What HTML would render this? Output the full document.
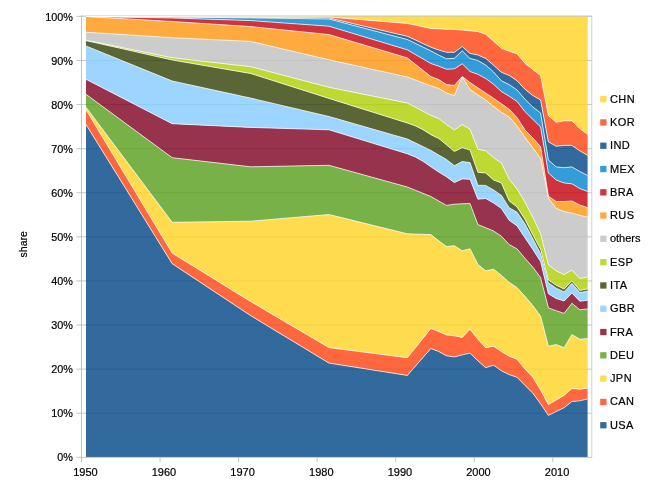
<!DOCTYPE html>
<html><head><meta charset="utf-8"><title>share</title>
<style>html,body{margin:0;padding:0;background:#fff}svg{display:block}text{font-family:"Liberation Sans",Arial,sans-serif;font-size:11px;fill:#000;stroke:#000;stroke-width:0.2px}</style></head><body>
<svg width="650" height="487" viewBox="0 0 650 487">
<rect width="650" height="487" fill="#fff"/>
<g stroke="#b3b3b3" stroke-width="0.75" fill="none"><line x1="81.5" y1="413.21" x2="591.8" y2="413.21"/><line x1="81.5" y1="369.12" x2="591.8" y2="369.12"/><line x1="81.5" y1="325.03" x2="591.8" y2="325.03"/><line x1="81.5" y1="280.94" x2="591.8" y2="280.94"/><line x1="81.5" y1="236.85" x2="591.8" y2="236.85"/><line x1="81.5" y1="192.76" x2="591.8" y2="192.76"/><line x1="81.5" y1="148.67" x2="591.8" y2="148.67"/><line x1="81.5" y1="104.58" x2="591.8" y2="104.58"/><line x1="81.5" y1="60.49" x2="591.8" y2="60.49"/><line x1="81.5" y1="16.40" x2="591.8" y2="16.40"/></g><path d="M81.5 16.0H591.8V457.4" stroke="#c9ccd2" stroke-width="0.9" fill="none"/>
<g fill-opacity="0.8" stroke="none"><polygon fill="#004586" points="86.0,457.0 172.2,457.0 250.6,457.0 329.0,457.0 407.3,457.0 415.2,457.0 423.0,457.0 430.9,457.0 438.7,457.0 446.5,457.0 454.4,457.0 462.2,457.0 470.0,457.0 477.9,457.0 485.7,457.0 493.6,457.0 501.4,457.0 509.2,457.0 517.1,457.0 524.9,457.0 532.7,457.0 540.6,457.0 548.4,457.0 556.2,457.0 564.1,457.0 571.9,457.0 579.8,457.0 587.6,457.0 587.6,398.9 579.8,400.8 571.9,401.5 564.1,407.7 556.2,411.5 548.4,415.4 540.6,403.8 532.7,393.0 524.9,385.3 517.1,377.3 509.2,374.6 501.4,370.8 493.6,365.1 485.7,367.7 477.9,360.8 470.0,353.1 462.2,354.9 454.4,356.9 446.5,355.8 438.7,351.5 430.9,348.5 423.0,357.5 415.2,366.4 407.3,375.4 329.0,363.1 250.6,315.6 172.2,263.7 86.0,124.5"/>
<polygon fill="#ff420e" points="86.0,124.5 172.2,263.7 250.6,315.6 329.0,363.1 407.3,375.4 415.2,366.4 423.0,357.5 430.9,348.5 438.7,351.5 446.5,355.8 454.4,356.9 462.2,354.9 470.0,353.1 477.9,360.8 485.7,367.7 493.6,365.1 501.4,370.8 509.2,374.6 517.1,377.3 524.9,385.3 532.7,393.0 540.6,403.8 548.4,415.4 556.2,411.5 564.1,407.7 571.9,401.5 579.8,400.8 587.6,398.9 587.6,388.2 579.8,389.2 571.9,388.5 564.1,395.4 556.2,400.0 548.4,404.6 540.6,390.0 532.7,377.0 524.9,369.0 517.1,359.2 509.2,356.2 501.4,351.5 493.6,346.2 485.7,347.7 477.9,339.2 470.0,329.2 462.2,337.4 454.4,335.8 446.5,334.9 438.7,331.5 430.9,328.5 423.0,338.2 415.2,348.0 407.3,357.7 329.0,347.6 250.6,301.5 172.2,253.1 86.0,109.7"/>
<polygon fill="#ffd320" points="86.0,109.7 172.2,253.1 250.6,301.5 329.0,347.6 407.3,357.7 415.2,348.0 423.0,338.2 430.9,328.5 438.7,331.5 446.5,334.9 454.4,335.8 462.2,337.4 470.0,329.2 477.9,339.2 485.7,347.7 493.6,346.2 501.4,351.5 509.2,356.2 517.1,359.2 524.9,369.0 532.7,377.0 540.6,390.0 548.4,404.6 556.2,400.0 564.1,395.4 571.9,388.5 579.8,389.2 587.6,388.2 587.6,338.5 579.8,339.2 571.9,334.6 564.1,347.7 556.2,344.6 548.4,346.2 540.6,316.2 532.7,305.4 524.9,296.2 517.1,287.7 509.2,282.3 501.4,275.4 493.6,269.2 485.7,270.8 477.9,264.4 470.0,248.8 462.2,250.8 454.4,245.7 446.5,246.6 438.7,240.8 430.9,234.6 423.0,234.3 415.2,234.1 407.3,233.8 329.0,214.5 250.6,221.2 172.2,222.3 86.0,107.2"/>
<polygon fill="#579d1c" points="86.0,107.2 172.2,222.3 250.6,221.2 329.0,214.5 407.3,233.8 415.2,234.1 423.0,234.3 430.9,234.6 438.7,240.8 446.5,246.6 454.4,245.7 462.2,250.8 470.0,248.8 477.9,264.4 485.7,270.8 493.6,269.2 501.4,275.4 509.2,282.3 517.1,287.7 524.9,296.2 532.7,305.4 540.6,316.2 548.4,346.2 556.2,344.6 564.1,347.7 571.9,334.6 579.8,339.2 587.6,338.5 587.6,308.9 579.8,309.8 571.9,303.3 564.1,313.4 556.2,310.7 548.4,307.9 540.6,277.6 532.7,267.0 524.9,258.2 517.1,248.9 509.2,244.6 501.4,236.2 493.6,231.0 485.7,227.7 477.9,224.6 470.0,203.5 462.2,203.8 454.4,204.2 446.5,205.4 438.7,201.0 430.9,196.5 423.0,193.3 415.2,190.2 407.3,187.0 329.0,165.3 250.6,166.8 172.2,157.7 86.0,94.3"/>
<polygon fill="#7e0021" points="86.0,94.3 172.2,157.7 250.6,166.8 329.0,165.3 407.3,187.0 415.2,190.2 423.0,193.3 430.9,196.5 438.7,201.0 446.5,205.4 454.4,204.2 462.2,203.8 470.0,203.5 477.9,224.6 485.7,227.7 493.6,231.0 501.4,236.2 509.2,244.6 517.1,248.9 524.9,258.2 532.7,267.0 540.6,277.6 548.4,307.9 556.2,310.7 564.1,313.4 571.9,303.3 579.8,309.8 587.6,308.9 587.6,300.3 579.8,301.2 571.9,293.0 564.1,301.0 556.2,298.5 548.4,293.8 540.6,261.6 532.7,249.2 524.9,237.7 517.1,225.9 509.2,220.3 501.4,208.5 493.6,203.0 485.7,198.5 477.9,199.2 470.0,179.2 462.2,178.9 454.4,182.6 446.5,176.8 438.7,172.0 430.9,166.8 423.0,161.3 415.2,156.9 407.3,153.8 329.0,129.8 250.6,127.4 172.2,123.7 86.0,79.3"/>
<polygon fill="#83caff" points="86.0,79.3 172.2,123.7 250.6,127.4 329.0,129.8 407.3,153.8 415.2,156.9 423.0,161.3 430.9,166.8 438.7,172.0 446.5,176.8 454.4,182.6 462.2,178.9 470.0,179.2 477.9,199.2 485.7,198.5 493.6,203.0 501.4,208.5 509.2,220.3 517.1,225.9 524.9,237.7 532.7,249.2 540.6,261.6 548.4,293.8 556.2,298.5 564.1,301.0 571.9,293.0 579.8,301.2 587.6,300.3 587.6,291.2 579.8,292.6 571.9,283.3 564.1,291.9 556.2,288.2 548.4,282.8 540.6,253.8 532.7,238.5 524.9,223.8 517.1,212.3 509.2,207.8 501.4,195.4 493.6,190.0 485.7,185.4 477.9,185.3 470.0,162.6 462.2,161.5 454.4,165.7 446.5,159.5 438.7,155.0 430.9,150.4 423.0,146.6 415.2,142.8 407.3,139.0 329.0,116.5 250.6,98.1 172.2,81.0 86.0,46.0"/>
<polygon fill="#314004" points="86.0,46.0 172.2,81.0 250.6,98.1 329.0,116.5 407.3,139.0 415.2,142.8 423.0,146.6 430.9,150.4 438.7,155.0 446.5,159.5 454.4,165.7 462.2,161.5 470.0,162.6 477.9,185.3 485.7,185.4 493.6,190.0 501.4,195.4 509.2,207.8 517.1,212.3 524.9,223.8 532.7,238.5 540.6,253.8 548.4,282.8 556.2,288.2 564.1,291.9 571.9,283.3 579.8,292.6 587.6,291.2 587.6,288.9 579.8,290.4 571.9,280.8 564.1,289.0 556.2,285.2 548.4,279.9 540.6,249.2 532.7,234.6 524.9,219.2 517.1,207.0 509.2,200.9 501.4,183.0 493.6,180.0 485.7,173.0 477.9,172.3 470.0,150.0 462.2,147.7 454.4,151.5 446.5,144.8 438.7,138.4 430.9,134.7 423.0,129.7 415.2,125.8 407.3,123.0 329.0,98.4 250.6,73.5 172.2,60.0 86.0,40.6"/>
<polygon fill="#aecf00" points="86.0,40.6 172.2,60.0 250.6,73.5 329.0,98.4 407.3,123.0 415.2,125.8 423.0,129.7 430.9,134.7 438.7,138.4 446.5,144.8 454.4,151.5 462.2,147.7 470.0,150.0 477.9,172.3 485.7,173.0 493.6,180.0 501.4,183.0 509.2,200.9 517.1,207.0 524.9,219.2 532.7,234.6 540.6,249.2 548.4,279.9 556.2,285.2 564.1,289.0 571.9,280.8 579.8,290.4 587.6,288.9 587.6,277.0 579.8,278.5 571.9,270.0 564.1,274.6 556.2,270.8 548.4,264.9 540.6,233.6 532.7,217.0 524.9,202.0 517.1,189.0 509.2,179.2 501.4,163.0 493.6,157.7 485.7,150.8 477.9,149.2 470.0,129.2 462.2,124.6 454.4,130.0 446.5,124.6 438.7,118.5 430.9,115.4 423.0,111.3 415.2,107.1 407.3,103.0 329.0,87.3 250.6,66.7 172.2,57.7 86.0,40.2"/>
<polygon fill="#bfbfbf" points="86.0,40.2 172.2,57.7 250.6,66.7 329.0,87.3 407.3,103.0 415.2,107.1 423.0,111.3 430.9,115.4 438.7,118.5 446.5,124.6 454.4,130.0 462.2,124.6 470.0,129.2 477.9,149.2 485.7,150.8 493.6,157.7 501.4,163.0 509.2,179.2 517.1,189.0 524.9,202.0 532.7,217.0 540.6,233.6 548.4,264.9 556.2,270.8 564.1,274.6 571.9,270.0 579.8,278.5 587.6,277.0 587.6,217.0 579.8,215.4 571.9,213.0 564.1,211.5 556.2,208.5 548.4,198.2 540.6,158.5 532.7,147.7 524.9,137.3 517.1,126.2 509.2,117.0 501.4,112.2 493.6,106.5 485.7,100.0 477.9,95.0 470.0,89.6 462.2,77.0 454.4,95.6 446.5,93.0 438.7,88.4 430.9,85.9 423.0,82.9 415.2,80.0 407.3,77.0 329.0,59.8 250.6,41.4 172.2,37.7 86.0,32.2"/>
<polygon fill="#ff950e" points="86.0,32.2 172.2,37.7 250.6,41.4 329.0,59.8 407.3,77.0 415.2,80.0 423.0,82.9 430.9,85.9 438.7,88.4 446.5,93.0 454.4,95.6 462.2,77.0 470.0,89.6 477.9,95.0 485.7,100.0 493.6,106.5 501.4,112.2 509.2,117.0 517.1,126.2 524.9,137.3 532.7,147.7 540.6,158.5 548.4,198.2 556.2,208.5 564.1,211.5 571.9,213.0 579.8,215.4 587.6,217.0 587.6,207.7 579.8,205.0 571.9,201.0 564.1,201.5 556.2,201.5 548.4,196.2 540.6,146.8 532.7,137.7 524.9,129.8 517.1,117.7 509.2,109.2 501.4,103.7 493.6,98.3 485.7,93.0 477.9,87.9 470.0,82.5 462.2,76.5 454.4,85.4 446.5,84.6 438.7,79.5 430.9,76.6 423.0,70.4 415.2,64.1 407.3,57.9 329.0,34.6 250.6,26.6 172.2,21.5 86.0,16.5"/>
<polygon fill="#c5000b" points="86.0,16.5 172.2,21.5 250.6,26.6 329.0,34.6 407.3,57.9 415.2,64.1 423.0,70.4 430.9,76.6 438.7,79.5 446.5,84.6 454.4,85.4 462.2,76.5 470.0,82.5 477.9,87.9 485.7,93.0 493.6,98.3 501.4,103.7 509.2,109.2 517.1,117.7 524.9,129.8 532.7,137.7 540.6,146.8 548.4,196.2 556.2,201.5 564.1,201.5 571.9,201.0 579.8,205.0 587.6,207.7 587.6,191.5 579.8,188.5 571.9,183.8 564.1,183.0 556.2,180.0 548.4,173.0 540.6,126.9 532.7,119.2 524.9,111.5 517.1,101.5 509.2,96.2 501.4,91.5 493.6,84.3 485.7,78.5 477.9,74.3 470.0,71.5 462.2,63.8 454.4,68.9 446.5,69.2 438.7,66.2 430.9,63.5 423.0,58.9 415.2,54.4 407.3,49.8 329.0,26.2 250.6,20.6 172.2,18.0 86.0,16.5"/>
<polygon fill="#0084d1" points="86.0,16.5 172.2,18.0 250.6,20.6 329.0,26.2 407.3,49.8 415.2,54.4 423.0,58.9 430.9,63.5 438.7,66.2 446.5,69.2 454.4,68.9 462.2,63.8 470.0,71.5 477.9,74.3 485.7,78.5 493.6,84.3 501.4,91.5 509.2,96.2 517.1,101.5 524.9,111.5 532.7,119.2 540.6,126.9 548.4,173.0 556.2,180.0 564.1,183.0 571.9,183.8 579.8,188.5 587.6,191.5 587.6,175.4 579.8,171.5 571.9,166.9 564.1,167.7 556.2,166.9 548.4,160.0 540.6,113.0 532.7,106.9 524.9,99.2 517.1,90.0 509.2,84.6 501.4,80.8 493.6,72.0 485.7,65.1 477.9,60.5 470.0,58.5 462.2,50.8 454.4,58.3 446.5,58.8 438.7,55.1 430.9,50.9 423.0,47.1 415.2,43.3 407.3,39.5 329.0,19.0 250.6,17.9 172.2,17.0 86.0,16.5"/>
<polygon fill="#004586" points="86.0,16.5 172.2,17.0 250.6,17.9 329.0,19.0 407.3,39.5 415.2,43.3 423.0,47.1 430.9,50.9 438.7,55.1 446.5,58.8 454.4,58.3 462.2,50.8 470.0,58.5 477.9,60.5 485.7,65.1 493.6,72.0 501.4,80.8 509.2,84.6 517.1,90.0 524.9,99.2 532.7,106.9 540.6,113.0 548.4,160.0 556.2,166.9 564.1,167.7 571.9,166.9 579.8,171.5 587.6,175.4 587.6,155.4 579.8,150.8 571.9,145.4 564.1,145.4 556.2,146.2 548.4,141.8 540.6,100.0 532.7,95.4 524.9,89.2 517.1,80.8 509.2,75.4 501.4,72.3 493.6,65.2 485.7,58.4 477.9,55.0 470.0,53.4 462.2,46.5 454.4,52.3 446.5,52.3 438.7,50.0 430.9,47.2 423.0,43.6 415.2,39.9 407.3,36.3 329.0,18.0 250.6,17.3 172.2,16.8 86.0,16.5"/>
<polygon fill="#ff420e" points="86.0,16.5 172.2,16.8 250.6,17.3 329.0,18.0 407.3,36.3 415.2,39.9 423.0,43.6 430.9,47.2 438.7,50.0 446.5,52.3 454.4,52.3 462.2,46.5 470.0,53.4 477.9,55.0 485.7,58.4 493.6,65.2 501.4,72.3 509.2,75.4 517.1,80.8 524.9,89.2 532.7,95.4 540.6,100.0 548.4,141.8 556.2,146.2 564.1,145.4 571.9,145.4 579.8,150.8 587.6,155.4 587.6,134.3 579.8,128.5 571.9,120.8 564.1,120.8 556.2,122.3 548.4,115.6 540.6,75.4 532.7,69.5 524.9,63.2 517.1,53.8 509.2,51.2 501.4,48.3 493.6,41.2 485.7,34.2 477.9,31.5 470.0,30.8 462.2,30.0 454.4,29.5 446.5,29.2 438.7,28.8 430.9,28.5 423.0,26.8 415.2,25.1 407.3,23.4 329.0,17.0 250.6,16.9 172.2,16.6 86.0,16.5"/>
<polygon fill="#ffd320" points="86.0,16.5 172.2,16.6 250.6,16.9 329.0,17.0 407.3,23.4 415.2,25.1 423.0,26.8 430.9,28.5 438.7,28.8 446.5,29.2 454.4,29.5 462.2,30.0 470.0,30.8 477.9,31.5 485.7,34.2 493.6,41.2 501.4,48.3 509.2,51.2 517.1,53.8 524.9,63.2 532.7,69.5 540.6,75.4 548.4,115.6 556.2,122.3 564.1,120.8 571.9,120.8 579.8,128.5 587.6,134.3 587.6,16.5 579.8,16.5 571.9,16.5 564.1,16.5 556.2,16.5 548.4,16.5 540.6,16.5 532.7,16.5 524.9,16.5 517.1,16.5 509.2,16.5 501.4,16.5 493.6,16.5 485.7,16.5 477.9,16.5 470.0,16.5 462.2,16.5 454.4,16.5 446.5,16.5 438.7,16.5 430.9,16.5 423.0,16.5 415.2,16.5 407.3,16.5 329.0,16.5 250.6,16.5 172.2,16.5 86.0,16.5"/></g>
<g fill="none" stroke="#fff" stroke-opacity="0.85" stroke-width="0.85" stroke-linejoin="round"><polyline points="86.0,124.5 172.2,263.7 250.6,315.6 329.0,363.1 407.3,375.4 415.2,366.4 423.0,357.5 430.9,348.5 438.7,351.5 446.5,355.8 454.4,356.9 462.2,354.9 470.0,353.1 477.9,360.8 485.7,367.7 493.6,365.1 501.4,370.8 509.2,374.6 517.1,377.3 524.9,385.3 532.7,393.0 540.6,403.8 548.4,415.4 556.2,411.5 564.1,407.7 571.9,401.5 579.8,400.8 587.6,398.9"/>
<polyline points="86.0,109.7 172.2,253.1 250.6,301.5 329.0,347.6 407.3,357.7 415.2,348.0 423.0,338.2 430.9,328.5 438.7,331.5 446.5,334.9 454.4,335.8 462.2,337.4 470.0,329.2 477.9,339.2 485.7,347.7 493.6,346.2 501.4,351.5 509.2,356.2 517.1,359.2 524.9,369.0 532.7,377.0 540.6,390.0 548.4,404.6 556.2,400.0 564.1,395.4 571.9,388.5 579.8,389.2 587.6,388.2"/>
<polyline points="86.0,107.2 172.2,222.3 250.6,221.2 329.0,214.5 407.3,233.8 415.2,234.1 423.0,234.3 430.9,234.6 438.7,240.8 446.5,246.6 454.4,245.7 462.2,250.8 470.0,248.8 477.9,264.4 485.7,270.8 493.6,269.2 501.4,275.4 509.2,282.3 517.1,287.7 524.9,296.2 532.7,305.4 540.6,316.2 548.4,346.2 556.2,344.6 564.1,347.7 571.9,334.6 579.8,339.2 587.6,338.5"/>
<polyline points="86.0,94.3 172.2,157.7 250.6,166.8 329.0,165.3 407.3,187.0 415.2,190.2 423.0,193.3 430.9,196.5 438.7,201.0 446.5,205.4 454.4,204.2 462.2,203.8 470.0,203.5 477.9,224.6 485.7,227.7 493.6,231.0 501.4,236.2 509.2,244.6 517.1,248.9 524.9,258.2 532.7,267.0 540.6,277.6 548.4,307.9 556.2,310.7 564.1,313.4 571.9,303.3 579.8,309.8 587.6,308.9"/>
<polyline points="86.0,79.3 172.2,123.7 250.6,127.4 329.0,129.8 407.3,153.8 415.2,156.9 423.0,161.3 430.9,166.8 438.7,172.0 446.5,176.8 454.4,182.6 462.2,178.9 470.0,179.2 477.9,199.2 485.7,198.5 493.6,203.0 501.4,208.5 509.2,220.3 517.1,225.9 524.9,237.7 532.7,249.2 540.6,261.6 548.4,293.8 556.2,298.5 564.1,301.0 571.9,293.0 579.8,301.2 587.6,300.3"/>
<polyline points="86.0,46.0 172.2,81.0 250.6,98.1 329.0,116.5 407.3,139.0 415.2,142.8 423.0,146.6 430.9,150.4 438.7,155.0 446.5,159.5 454.4,165.7 462.2,161.5 470.0,162.6 477.9,185.3 485.7,185.4 493.6,190.0 501.4,195.4 509.2,207.8 517.1,212.3 524.9,223.8 532.7,238.5 540.6,253.8 548.4,282.8 556.2,288.2 564.1,291.9 571.9,283.3 579.8,292.6 587.6,291.2"/>
<polyline points="86.0,40.6 172.2,60.0 250.6,73.5 329.0,98.4 407.3,123.0 415.2,125.8 423.0,129.7 430.9,134.7 438.7,138.4 446.5,144.8 454.4,151.5 462.2,147.7 470.0,150.0 477.9,172.3 485.7,173.0 493.6,180.0 501.4,183.0 509.2,200.9 517.1,207.0 524.9,219.2 532.7,234.6 540.6,249.2 548.4,279.9 556.2,285.2 564.1,289.0 571.9,280.8 579.8,290.4 587.6,288.9"/>
<polyline points="86.0,40.2 172.2,57.7 250.6,66.7 329.0,87.3 407.3,103.0 415.2,107.1 423.0,111.3 430.9,115.4 438.7,118.5 446.5,124.6 454.4,130.0 462.2,124.6 470.0,129.2 477.9,149.2 485.7,150.8 493.6,157.7 501.4,163.0 509.2,179.2 517.1,189.0 524.9,202.0 532.7,217.0 540.6,233.6 548.4,264.9 556.2,270.8 564.1,274.6 571.9,270.0 579.8,278.5 587.6,277.0"/>
<polyline points="86.0,32.2 172.2,37.7 250.6,41.4 329.0,59.8 407.3,77.0 415.2,80.0 423.0,82.9 430.9,85.9 438.7,88.4 446.5,93.0 454.4,95.6 462.2,77.0 470.0,89.6 477.9,95.0 485.7,100.0 493.6,106.5 501.4,112.2 509.2,117.0 517.1,126.2 524.9,137.3 532.7,147.7 540.6,158.5 548.4,198.2 556.2,208.5 564.1,211.5 571.9,213.0 579.8,215.4 587.6,217.0"/>
<polyline points="86.0,16.5 172.2,21.5 250.6,26.6 329.0,34.6 407.3,57.9 415.2,64.1 423.0,70.4 430.9,76.6 438.7,79.5 446.5,84.6 454.4,85.4 462.2,76.5 470.0,82.5 477.9,87.9 485.7,93.0 493.6,98.3 501.4,103.7 509.2,109.2 517.1,117.7 524.9,129.8 532.7,137.7 540.6,146.8 548.4,196.2 556.2,201.5 564.1,201.5 571.9,201.0 579.8,205.0 587.6,207.7"/>
<polyline points="86.0,16.5 172.2,18.0 250.6,20.6 329.0,26.2 407.3,49.8 415.2,54.4 423.0,58.9 430.9,63.5 438.7,66.2 446.5,69.2 454.4,68.9 462.2,63.8 470.0,71.5 477.9,74.3 485.7,78.5 493.6,84.3 501.4,91.5 509.2,96.2 517.1,101.5 524.9,111.5 532.7,119.2 540.6,126.9 548.4,173.0 556.2,180.0 564.1,183.0 571.9,183.8 579.8,188.5 587.6,191.5"/>
<polyline points="86.0,16.5 172.2,17.0 250.6,17.9 329.0,19.0 407.3,39.5 415.2,43.3 423.0,47.1 430.9,50.9 438.7,55.1 446.5,58.8 454.4,58.3 462.2,50.8 470.0,58.5 477.9,60.5 485.7,65.1 493.6,72.0 501.4,80.8 509.2,84.6 517.1,90.0 524.9,99.2 532.7,106.9 540.6,113.0 548.4,160.0 556.2,166.9 564.1,167.7 571.9,166.9 579.8,171.5 587.6,175.4"/>
<polyline points="86.0,16.5 172.2,16.8 250.6,17.3 329.0,18.0 407.3,36.3 415.2,39.9 423.0,43.6 430.9,47.2 438.7,50.0 446.5,52.3 454.4,52.3 462.2,46.5 470.0,53.4 477.9,55.0 485.7,58.4 493.6,65.2 501.4,72.3 509.2,75.4 517.1,80.8 524.9,89.2 532.7,95.4 540.6,100.0 548.4,141.8 556.2,146.2 564.1,145.4 571.9,145.4 579.8,150.8 587.6,155.4"/>
<polyline points="86.0,16.5 172.2,16.6 250.6,16.9 329.0,17.0 407.3,23.4 415.2,25.1 423.0,26.8 430.9,28.5 438.7,28.8 446.5,29.2 454.4,29.5 462.2,30.0 470.0,30.8 477.9,31.5 485.7,34.2 493.6,41.2 501.4,48.3 509.2,51.2 517.1,53.8 524.9,63.2 532.7,69.5 540.6,75.4 548.4,115.6 556.2,122.3 564.1,120.8 571.9,120.8 579.8,128.5 587.6,134.3"/></g>
<g stroke="#b3b3b3" stroke-width="0.8" fill="none"><line x1="81.5" y1="15.4" x2="81.5" y2="462"/><line x1="81.5" y1="457.4" x2="591.8" y2="457.4"/><line x1="76.5" y1="457.30" x2="81.5" y2="457.30"/><line x1="76.5" y1="413.21" x2="81.5" y2="413.21"/><line x1="76.5" y1="369.12" x2="81.5" y2="369.12"/><line x1="76.5" y1="325.03" x2="81.5" y2="325.03"/><line x1="76.5" y1="280.94" x2="81.5" y2="280.94"/><line x1="76.5" y1="236.85" x2="81.5" y2="236.85"/><line x1="76.5" y1="192.76" x2="81.5" y2="192.76"/><line x1="76.5" y1="148.67" x2="81.5" y2="148.67"/><line x1="76.5" y1="104.58" x2="81.5" y2="104.58"/><line x1="76.5" y1="60.49" x2="81.5" y2="60.49"/><line x1="76.5" y1="16.40" x2="81.5" y2="16.40"/><line x1="160.05" y1="457.4" x2="160.05" y2="462"/><line x1="238.60" y1="457.4" x2="238.60" y2="462"/><line x1="317.15" y1="457.4" x2="317.15" y2="462"/><line x1="395.70" y1="457.4" x2="395.70" y2="462"/><line x1="474.25" y1="457.4" x2="474.25" y2="462"/><line x1="552.80" y1="457.4" x2="552.80" y2="462"/></g>
<text x="72.8" y="461.1" text-anchor="end" style="font-size:10.8px">0%</text><text x="72.8" y="417.1" text-anchor="end" style="font-size:10.8px">10%</text><text x="72.8" y="373.0" text-anchor="end" style="font-size:10.8px">20%</text><text x="72.8" y="328.9" text-anchor="end" style="font-size:10.8px">30%</text><text x="72.8" y="284.9" text-anchor="end" style="font-size:10.8px">40%</text><text x="72.8" y="240.9" text-anchor="end" style="font-size:10.8px">50%</text><text x="72.8" y="196.8" text-anchor="end" style="font-size:10.8px">60%</text><text x="72.8" y="152.8" text-anchor="end" style="font-size:10.8px">70%</text><text x="72.8" y="108.7" text-anchor="end" style="font-size:10.8px">80%</text><text x="72.8" y="64.6" text-anchor="end" style="font-size:10.8px">90%</text><text x="72.8" y="20.6" text-anchor="end" style="font-size:10.8px">100%</text><text x="85.4" y="476.2" text-anchor="middle">1950</text><text x="164.0" y="476.2" text-anchor="middle">1960</text><text x="242.6" y="476.2" text-anchor="middle">1970</text><text x="321.3" y="476.2" text-anchor="middle">1980</text><text x="399.9" y="476.2" text-anchor="middle">1990</text><text x="478.5" y="476.2" text-anchor="middle">2000</text><text x="557.1" y="476.2" text-anchor="middle">2010</text><text transform="translate(26.5,244.3) rotate(-90)" text-anchor="middle" style="font-size:10.5px">share</text><rect x="600.2" y="96.0" width="6.3" height="6.3" fill="#ffd320" fill-opacity="0.8"/><text x="609.9" y="102.6" letter-spacing="0.45">CHN</text><rect x="600.2" y="119.3" width="6.3" height="6.3" fill="#ff420e" fill-opacity="0.8"/><text x="609.9" y="125.9" letter-spacing="0.45">KOR</text><rect x="600.2" y="142.6" width="6.3" height="6.3" fill="#004586" fill-opacity="0.8"/><text x="609.9" y="149.2" letter-spacing="0.45">IND</text><rect x="600.2" y="165.9" width="6.3" height="6.3" fill="#0084d1" fill-opacity="0.8"/><text x="609.9" y="172.5" letter-spacing="0.45">MEX</text><rect x="600.2" y="189.2" width="6.3" height="6.3" fill="#c5000b" fill-opacity="0.8"/><text x="609.9" y="195.8" letter-spacing="0.45">BRA</text><rect x="600.2" y="212.4" width="6.3" height="6.3" fill="#ff950e" fill-opacity="0.8"/><text x="609.9" y="219.0" letter-spacing="0.45">RUS</text><rect x="600.2" y="235.7" width="6.3" height="6.3" fill="#bfbfbf" fill-opacity="0.8"/><text x="609.9" y="242.3">others</text><rect x="600.2" y="259.0" width="6.3" height="6.3" fill="#aecf00" fill-opacity="0.8"/><text x="609.9" y="265.6" letter-spacing="0.45">ESP</text><rect x="600.2" y="282.3" width="6.3" height="6.3" fill="#314004" fill-opacity="0.8"/><text x="609.9" y="288.9" letter-spacing="0.45">ITA</text><rect x="600.2" y="305.6" width="6.3" height="6.3" fill="#83caff" fill-opacity="0.8"/><text x="609.9" y="312.2" letter-spacing="0.45">GBR</text><rect x="600.2" y="328.9" width="6.3" height="6.3" fill="#7e0021" fill-opacity="0.8"/><text x="609.9" y="335.5" letter-spacing="0.45">FRA</text><rect x="600.2" y="352.2" width="6.3" height="6.3" fill="#579d1c" fill-opacity="0.8"/><text x="609.9" y="358.8" letter-spacing="0.45">DEU</text><rect x="600.2" y="375.5" width="6.3" height="6.3" fill="#ffd320" fill-opacity="0.8"/><text x="609.9" y="382.1" letter-spacing="0.45">JPN</text><rect x="600.2" y="398.8" width="6.3" height="6.3" fill="#ff420e" fill-opacity="0.8"/><text x="609.9" y="405.4" letter-spacing="0.45">CAN</text><rect x="600.2" y="422.1" width="6.3" height="6.3" fill="#004586" fill-opacity="0.8"/><text x="609.9" y="428.7" letter-spacing="0.45">USA</text>
</svg></body></html>
